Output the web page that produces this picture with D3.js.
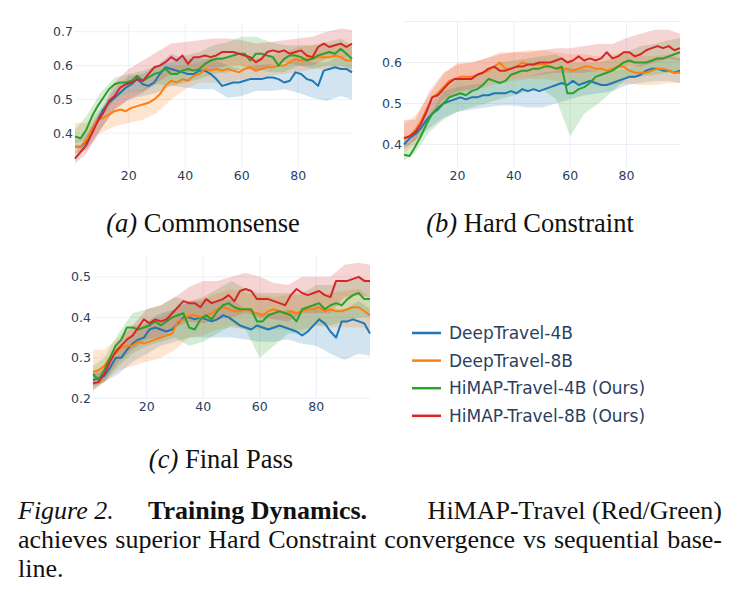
<!DOCTYPE html>
<html>
<head>
<meta charset="utf-8">
<script src="https://cdn.jsdelivr.net/npm/d3@7"></script>
<style>
  body { margin: 0; background: #fff; }
  svg { display: block; }
</style>
</head>
<body>
<div id="chart"></div>
<script>
// training steps for the lines, and coarser steps for the shaded bands
const steps = d3.range(1, 100, 2);
const bandSteps = [1, 5, 10, 15, 20, 25, 30, 35, 40, 45, 50, 55, 60, 65, 70, 75, 80, 85, 90, 95, 99];
const seriesNames = ["DeepTravel-4B", "DeepTravel-8B", "HiMAP-Travel-4B (Ours)", "HiMAP-Travel-8B (Ours)"];
const colors = ["#1f77b4", "#ff7f0e", "#2ca02c", "#d62728"];
const xTicks = [20, 40, 60, 80];

// (a) Commonsense
const csDeep4 = [0.36,0.36,0.375,0.41,0.44,0.47,0.49,0.505,0.52,0.535,0.545,0.56,0.545,0.54,0.55,0.575,0.595,0.59,0.585,0.58,0.575,0.575,0.585,0.585,0.575,0.56,0.54,0.545,0.55,0.55,0.555,0.56,0.56,0.56,0.565,0.565,0.56,0.55,0.555,0.58,0.575,0.56,0.555,0.54,0.585,0.59,0.595,0.59,0.59,0.58];
const csDeep8 = [0.36,0.36,0.38,0.41,0.44,0.445,0.455,0.465,0.47,0.465,0.475,0.48,0.485,0.49,0.50,0.515,0.54,0.555,0.55,0.56,0.555,0.57,0.575,0.59,0.585,0.59,0.585,0.59,0.585,0.58,0.59,0.595,0.585,0.59,0.595,0.595,0.60,0.60,0.61,0.62,0.615,0.62,0.62,0.625,0.625,0.625,0.63,0.625,0.615,0.615];
const csHimap4 = [0.39,0.385,0.41,0.45,0.48,0.505,0.53,0.545,0.55,0.55,0.555,0.57,0.555,0.565,0.575,0.58,0.59,0.575,0.575,0.585,0.59,0.585,0.59,0.605,0.615,0.62,0.62,0.625,0.63,0.635,0.635,0.615,0.635,0.635,0.63,0.625,0.60,0.62,0.63,0.63,0.625,0.615,0.62,0.63,0.635,0.64,0.635,0.65,0.635,0.62];
const csHimap8 = [0.325,0.345,0.365,0.40,0.435,0.46,0.495,0.51,0.535,0.545,0.55,0.56,0.555,0.575,0.595,0.60,0.61,0.625,0.615,0.63,0.605,0.625,0.625,0.63,0.625,0.63,0.64,0.64,0.64,0.635,0.63,0.625,0.61,0.62,0.64,0.645,0.64,0.645,0.635,0.64,0.645,0.63,0.625,0.655,0.665,0.655,0.66,0.665,0.655,0.665];
const csDeep4Lo = [0.34,0.35,0.41,0.47,0.50,0.51,0.52,0.54,0.535,0.53,0.53,0.505,0.51,0.525,0.525,0.53,0.52,0.505,0.495,0.51,0.50];
const csDeep4Hi = [0.38,0.40,0.47,0.53,0.57,0.575,0.60,0.635,0.62,0.62,0.62,0.60,0.59,0.60,0.605,0.60,0.62,0.61,0.61,0.63,0.62];
const csDeep8Lo = [0.34,0.35,0.40,0.42,0.43,0.44,0.46,0.50,0.53,0.55,0.55,0.55,0.56,0.56,0.57,0.575,0.58,0.59,0.59,0.59,0.58];
const csDeep8Hi = [0.43,0.43,0.47,0.50,0.52,0.53,0.56,0.60,0.60,0.61,0.625,0.625,0.63,0.62,0.63,0.64,0.655,0.66,0.66,0.665,0.66];
const csHimap4Lo = [0.37,0.38,0.44,0.50,0.52,0.525,0.545,0.54,0.55,0.56,0.575,0.58,0.59,0.59,0.58,0.58,0.60,0.59,0.60,0.60,0.59];
const csHimap4Hi = [0.41,0.45,0.52,0.565,0.575,0.585,0.60,0.61,0.63,0.64,0.66,0.67,0.685,0.685,0.67,0.66,0.66,0.66,0.67,0.68,0.66];
const csHimap8Lo = [0.31,0.34,0.41,0.47,0.50,0.52,0.55,0.575,0.58,0.585,0.59,0.60,0.60,0.58,0.60,0.61,0.60,0.60,0.62,0.625,0.625];
const csHimap8Hi = [0.34,0.39,0.46,0.55,0.59,0.615,0.64,0.665,0.67,0.675,0.68,0.68,0.675,0.665,0.67,0.675,0.68,0.685,0.70,0.71,0.705];

// (b) Hard Constraint
const hcDeep4 = [0.40,0.415,0.425,0.44,0.46,0.475,0.485,0.50,0.505,0.51,0.515,0.51,0.515,0.515,0.52,0.52,0.525,0.525,0.525,0.53,0.525,0.535,0.53,0.535,0.53,0.535,0.54,0.545,0.55,0.545,0.555,0.545,0.55,0.555,0.55,0.545,0.545,0.55,0.555,0.56,0.565,0.565,0.57,0.58,0.585,0.585,0.58,0.58,0.575,0.58];
const hcDeep8 = [0.415,0.42,0.435,0.455,0.485,0.515,0.525,0.54,0.555,0.56,0.565,0.565,0.565,0.57,0.575,0.58,0.59,0.60,0.585,0.585,0.59,0.60,0.595,0.595,0.595,0.595,0.59,0.585,0.585,0.585,0.58,0.585,0.59,0.59,0.585,0.585,0.58,0.585,0.59,0.59,0.58,0.575,0.575,0.575,0.58,0.585,0.585,0.58,0.575,0.575];
const hcHimap4 = [0.375,0.372,0.395,0.42,0.45,0.475,0.49,0.50,0.515,0.52,0.525,0.52,0.53,0.535,0.545,0.56,0.555,0.55,0.555,0.57,0.575,0.58,0.58,0.585,0.585,0.59,0.59,0.585,0.59,0.525,0.525,0.535,0.54,0.55,0.565,0.57,0.575,0.58,0.59,0.60,0.605,0.60,0.60,0.60,0.605,0.61,0.61,0.615,0.62,0.625];
const hcHimap8 = [0.415,0.42,0.43,0.45,0.48,0.515,0.52,0.535,0.55,0.56,0.56,0.56,0.56,0.57,0.575,0.585,0.59,0.58,0.58,0.585,0.59,0.59,0.595,0.595,0.60,0.60,0.60,0.605,0.61,0.60,0.605,0.615,0.605,0.61,0.605,0.61,0.625,0.61,0.615,0.625,0.625,0.615,0.62,0.63,0.635,0.64,0.635,0.64,0.63,0.635];
const hcDeep4Lo = [0.39,0.41,0.44,0.465,0.48,0.485,0.49,0.495,0.495,0.49,0.49,0.50,0.51,0.52,0.525,0.53,0.545,0.55,0.555,0.555,0.55];
const hcDeep4Hi = [0.41,0.44,0.50,0.53,0.54,0.545,0.55,0.555,0.56,0.565,0.575,0.58,0.585,0.585,0.58,0.58,0.585,0.595,0.61,0.615,0.61];
const hcDeep8Lo = [0.38,0.40,0.46,0.50,0.525,0.53,0.54,0.55,0.555,0.56,0.56,0.555,0.55,0.55,0.545,0.545,0.55,0.545,0.545,0.55,0.55];
const hcDeep8Hi = [0.45,0.47,0.52,0.57,0.60,0.60,0.61,0.625,0.625,0.63,0.63,0.625,0.62,0.62,0.615,0.62,0.625,0.615,0.615,0.62,0.61];
const hcHimap4Lo = [0.36,0.38,0.43,0.46,0.48,0.49,0.50,0.51,0.52,0.53,0.535,0.51,0.42,0.475,0.50,0.53,0.56,0.565,0.57,0.575,0.58];
const hcHimap4Hi = [0.39,0.42,0.47,0.53,0.56,0.565,0.58,0.60,0.605,0.61,0.615,0.62,0.60,0.60,0.60,0.61,0.625,0.64,0.645,0.655,0.66];
const hcHimap8Lo = [0.39,0.41,0.47,0.51,0.53,0.535,0.55,0.555,0.56,0.565,0.57,0.575,0.575,0.575,0.58,0.58,0.59,0.59,0.60,0.61,0.605];
const hcHimap8Hi = [0.46,0.46,0.53,0.575,0.595,0.60,0.61,0.62,0.625,0.625,0.63,0.635,0.635,0.64,0.645,0.645,0.66,0.67,0.68,0.68,0.67];

// (c) Final Pass
const fpDeep4 = [0.245,0.25,0.255,0.275,0.30,0.30,0.32,0.335,0.345,0.35,0.37,0.375,0.37,0.365,0.37,0.385,0.40,0.40,0.395,0.40,0.395,0.39,0.395,0.405,0.40,0.39,0.38,0.375,0.37,0.38,0.375,0.37,0.375,0.38,0.375,0.37,0.365,0.355,0.365,0.38,0.395,0.385,0.365,0.35,0.39,0.39,0.395,0.39,0.385,0.36];
const fpDeep8 = [0.265,0.27,0.28,0.30,0.31,0.325,0.33,0.33,0.34,0.335,0.34,0.345,0.35,0.355,0.36,0.39,0.395,0.405,0.405,0.40,0.405,0.41,0.42,0.425,0.42,0.415,0.415,0.42,0.415,0.41,0.405,0.415,0.42,0.415,0.41,0.415,0.41,0.415,0.42,0.42,0.425,0.415,0.42,0.415,0.415,0.42,0.425,0.425,0.415,0.405];
const fpHimap4 = [0.26,0.245,0.27,0.30,0.33,0.345,0.375,0.375,0.37,0.375,0.38,0.39,0.38,0.39,0.40,0.405,0.41,0.375,0.37,0.395,0.405,0.395,0.415,0.43,0.435,0.425,0.42,0.42,0.42,0.39,0.39,0.405,0.41,0.415,0.41,0.405,0.39,0.42,0.425,0.43,0.435,0.42,0.43,0.435,0.43,0.445,0.455,0.46,0.445,0.445];
const fpHimap8 = [0.237,0.24,0.26,0.29,0.315,0.33,0.345,0.355,0.375,0.395,0.385,0.395,0.39,0.395,0.41,0.425,0.44,0.435,0.435,0.425,0.445,0.435,0.44,0.445,0.455,0.44,0.465,0.47,0.465,0.445,0.445,0.445,0.44,0.435,0.43,0.455,0.47,0.46,0.455,0.46,0.465,0.455,0.45,0.49,0.49,0.49,0.495,0.50,0.49,0.49];
const fpDeep4Lo = [0.23,0.24,0.26,0.29,0.31,0.33,0.34,0.35,0.35,0.35,0.35,0.345,0.34,0.34,0.345,0.335,0.33,0.31,0.295,0.31,0.305];
const fpDeep4Hi = [0.26,0.27,0.31,0.36,0.39,0.41,0.42,0.44,0.44,0.44,0.445,0.42,0.41,0.41,0.42,0.41,0.43,0.42,0.42,0.44,0.42];
const fpDeep8Lo = [0.23,0.24,0.27,0.28,0.29,0.30,0.32,0.35,0.355,0.37,0.375,0.37,0.37,0.37,0.37,0.37,0.38,0.375,0.375,0.375,0.37];
const fpDeep8Hi = [0.32,0.32,0.35,0.38,0.385,0.40,0.42,0.44,0.445,0.46,0.47,0.46,0.455,0.45,0.455,0.455,0.46,0.46,0.465,0.47,0.45];
const fpHimap4Lo = [0.22,0.24,0.28,0.31,0.33,0.34,0.35,0.33,0.34,0.36,0.38,0.37,0.30,0.33,0.36,0.36,0.38,0.38,0.39,0.40,0.40];
const fpHimap4Hi = [0.28,0.30,0.36,0.41,0.42,0.43,0.45,0.44,0.45,0.47,0.49,0.47,0.46,0.46,0.46,0.46,0.48,0.48,0.49,0.50,0.49];
const fpHimap8Lo = [0.22,0.24,0.29,0.32,0.345,0.35,0.375,0.39,0.385,0.395,0.40,0.41,0.40,0.395,0.39,0.41,0.41,0.41,0.45,0.455,0.45];
const fpHimap8Hi = [0.26,0.28,0.34,0.38,0.42,0.43,0.45,0.475,0.49,0.49,0.50,0.51,0.50,0.485,0.48,0.50,0.50,0.50,0.53,0.535,0.53];

const panels = [
  { title: ["(a)", "Commonsense"], left: 75, right: 352, top: 23, bottom: 167, yDomain: [0.30, 0.726],
    yTicks: [0.4, 0.5, 0.6, 0.7], labelX: 203, labelY: 232,
    lines: [csDeep4, csDeep8, csHimap4, csHimap8],
    lo: [csDeep4Lo, csDeep8Lo, csHimap4Lo, csHimap8Lo], hi: [csDeep4Hi, csDeep8Hi, csHimap4Hi, csHimap8Hi] },
  { title: ["(b)", "Hard Constraint"], left: 404, right: 680, top: 21.5, bottom: 167, yDomain: [0.345, 0.70],
    yTicks: [0.4, 0.5, 0.6], extraGrid: [0.7], labelX: 530, labelY: 232,
    lines: [hcDeep4, hcDeep8, hcHimap4, hcHimap8],
    lo: [hcDeep4Lo, hcDeep8Lo, hcHimap4Lo, hcHimap8Lo], hi: [hcDeep4Hi, hcDeep8Hi, hcHimap4Hi, hcHimap8Hi] },
  { title: ["(c)", "Final Pass"], left: 93, right: 370, top: 255, bottom: 398.3, yDomain: [0.2, 0.554],
    yTicks: [0.2, 0.3, 0.4, 0.5], labelX: 221, labelY: 468,
    lines: [fpDeep4, fpDeep8, fpHimap4, fpHimap8],
    lo: [fpDeep4Lo, fpDeep8Lo, fpHimap4Lo, fpHimap8Lo], hi: [fpDeep4Hi, fpDeep8Hi, fpHimap4Hi, fpHimap8Hi] }
];

const width = 739, height = 600;
const svg = d3.select("#chart").append("svg")
  .attr("width", width)
  .attr("height", height);

const tickFont = "DejaVu Sans, sans-serif";
const tickColor = "#2a3f5f";
const gridColor = "#ebf0f8";
const serif = "Liberation Serif, Times New Roman, serif";

function drawPanel(p) {
  const x = d3.scaleLinear().domain([1, 99]).range([p.left, p.right]);
  const y = d3.scaleLinear().domain(p.yDomain).range([p.bottom, p.top]);
  const g = svg.append("g");

  // grid
  g.selectAll(".vgrid").data(xTicks).enter().append("line")
    .attr("x1", d => x(d)).attr("x2", d => x(d))
    .attr("y1", p.top).attr("y2", p.bottom)
    .attr("stroke", gridColor).attr("stroke-width", 1);
  g.selectAll(".hgrid").data(p.yTicks.concat(p.extraGrid || [])).enter().append("line")
    .attr("x1", p.left).attr("x2", p.right)
    .attr("y1", d => y(d)).attr("y2", d => y(d))
    .attr("stroke", gridColor).attr("stroke-width", 1);

  // bands first, then lines on top
  const area = d3.area()
    .x(d => x(d.step))
    .y0(d => y(d.lo))
    .y1(d => y(d.hi));
  p.lo.forEach((loArr, i) => {
    const pts = bandSteps.map((s, j) => ({ step: s, lo: loArr[j], hi: p.hi[i][j] }));
    g.append("path")
      .datum(pts)
      .attr("d", area)
      .attr("fill", colors[i])
      .attr("fill-opacity", 0.2)
      .attr("stroke", "none");
  });

  const line = d3.line()
    .x(d => x(d[0]))
    .y(d => y(d[1]));
  p.lines.forEach((vals, i) => {
    g.append("path")
      .datum(steps.map((s, j) => [s, vals[j]]))
      .attr("d", line)
      .attr("fill", "none")
      .attr("stroke", colors[i])
      .attr("stroke-width", 2)
      .attr("stroke-linejoin", "round");
  });

  // tick labels
  g.selectAll(".xt").data(xTicks).enter().append("text")
    .attr("x", d => x(d))
    .attr("y", p.bottom + 13)
    .attr("text-anchor", "middle")
    .attr("font-family", tickFont)
    .attr("font-size", 12.5)
    .attr("fill", tickColor)
    .text(d => d);
  g.selectAll(".yt").data(p.yTicks).enter().append("text")
    .attr("x", p.left - 2)
    .attr("y", d => y(d))
    .attr("dy", "0.36em")
    .attr("text-anchor", "end")
    .attr("font-family", tickFont)
    .attr("font-size", 12.5)
    .attr("fill", tickColor)
    .text(d => d3.format(".1f")(d));

  // sub caption
  const t = svg.append("text")
    .attr("x", p.labelX)
    .attr("y", p.labelY)
    .attr("text-anchor", "middle")
    .attr("font-family", serif)
    .attr("font-size", 26.5)
    .attr("fill", "#111");
  t.append("tspan").attr("font-style", "italic").text(p.title[0]);
  t.append("tspan").text(" " + p.title[1]);
}

panels.forEach(drawPanel);

// legend
const legend = svg.append("g").attr("transform", "translate(412, 333)");
seriesNames.forEach((name, i) => {
  const row = legend.append("g").attr("transform", `translate(0, ${i * 27.6})`);
  row.append("line")
    .attr("x1", 0).attr("x2", 29)
    .attr("y1", 0).attr("y2", 0)
    .attr("stroke", colors[i])
    .attr("stroke-width", 2.5);
  row.append("text")
    .attr("x", 37)
    .attr("y", 0)
    .attr("dy", "0.36em")
    .attr("font-family", tickFont)
    .attr("font-size", 17)
    .attr("fill", tickColor)
    .text(name);
});

// figure caption
const cap = svg.append("g")
  .attr("font-family", serif)
  .attr("font-size", 26)
  .attr("fill", "#111");
cap.append("text").attr("x", 18).attr("y", 519)
  .attr("font-style", "italic").text("Figure 2.");
cap.append("text").attr("x", 148).attr("y", 519)
  .attr("font-weight", "bold").text("Training Dynamics.");
cap.append("text").attr("x", 722).attr("y", 519)
  .attr("text-anchor", "end").text("HiMAP-Travel (Red/Green)");

// justified second line
const words = "achieves superior Hard Constraint convergence vs sequential base-".split(" ");
const wordNodes = words.map(w => cap.append("text").attr("y", 548).text(w));
const widths = wordNodes.map(n => n.node().getComputedTextLength());
const gap = (722 - 18 - d3.sum(widths)) / (words.length - 1);
let cx = 18;
wordNodes.forEach((n, i) => {
  n.attr("x", cx);
  cx += widths[i] + gap;
});
cap.append("text").attr("x", 18).attr("y", 577).text("line.");
</script>
</body>
</html>
